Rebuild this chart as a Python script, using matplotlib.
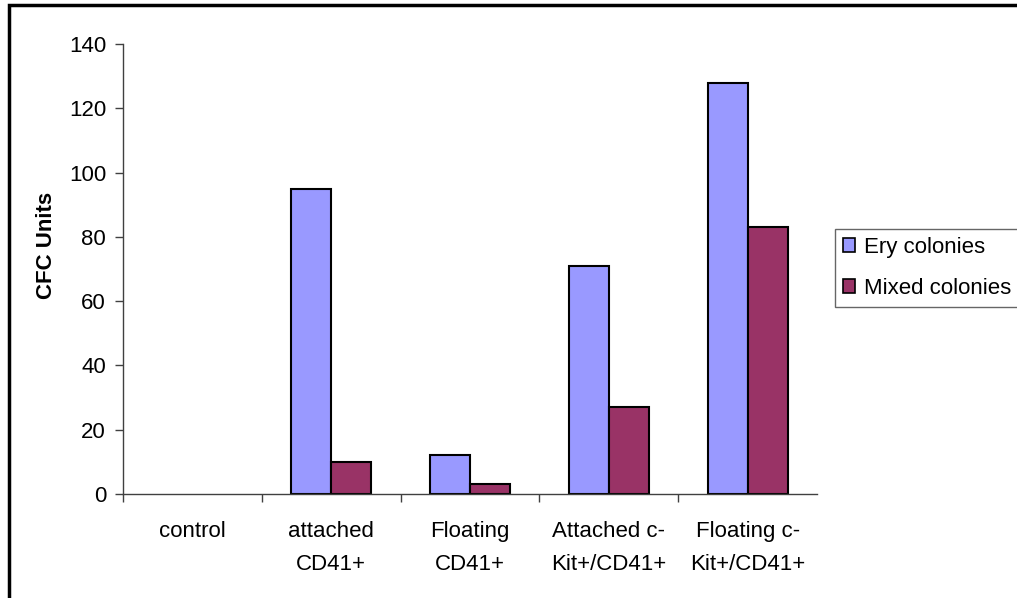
import numpy as np
import matplotlib.pyplot as plt
from matplotlib.patches import Rectangle, Patch

categories = ['control', 'attached\nCD41+', 'Floating\nCD41+',
              'Attached c-\nKit+/CD41+', 'Floating c-\nKit+/CD41+']
ery = [0, 95, 12, 71, 128]
mixed = [0, 10, 3, 27, 83]
yticks = [0, 20, 40, 60, 80, 100, 120, 140]

plt.rcParams['font.family'] = ['Liberation Sans', 'DejaVu Sans']

W, H = 1017, 598
fig = plt.figure(figsize=(W / 100, H / 100), dpi=100)
ax = fig.add_axes([122.7 / W, 1 - 494 / H, (817.3 - 122.7) / W, (494 - 44) / H])

x = np.arange(len(categories))
bw = 1 / 3.5
# empty bars get no outline
ax.bar(x, ery, width=bw, align='edge', color='#9999FF', edgecolor='black',
       linewidth=[1.5 if v else 0 for v in ery])
ax.bar(x + bw, mixed, width=bw, align='edge', color='#993366', edgecolor='black',
       linewidth=[1.5 if v else 0 for v in mixed])

ax.set_xlim(-0.5 + bw, len(categories) - 0.5 + bw)
ax.set_ylim(0, 140)
ax.set_yticks(yticks)
ax.tick_params(axis='y', labelsize=16, length=6, width=1, color='#404040', pad=6)

# category boundaries get the ticks, labels sit centred between them
ax.set_xticks(x - 0.5 + bw)
ax.set_xticklabels([])
ax.tick_params(axis='x', length=6, width=1, color='#404040')
for i, lab in enumerate(categories):
    ax.text(i + bw, -8.4, lab, ha='center', va='top', fontsize=16,
            linespacing=1.77)

for s in ['top', 'right']:
    ax.spines[s].set_visible(False)
for s in ['left', 'bottom']:
    ax.spines[s].set_color('#404040')
    ax.spines[s].set_linewidth(1)

fig.text(47 / W, 1 - 245 / H, 'CFC Units', rotation=90, ha='center', va='center',
         fontsize=16, fontweight='bold')

handles = [Patch(facecolor='#9999FF', edgecolor='black', linewidth=1.2, label='Ery colonies'),
           Patch(facecolor='#993366', edgecolor='black', linewidth=1.2, label='Mixed colonies')]
leg = fig.legend(handles=handles, loc='upper left',
                 bbox_to_anchor=(835 / W, 1 - 229 / H),
                 fontsize=16, frameon=True, fancybox=False, handlelength=0.55,
                 handleheight=0.55, handletextpad=0.4, borderpad=0.35,
                 labelspacing=0.9, borderaxespad=0)
leg.get_frame().set_edgecolor('#404040')
leg.get_frame().set_linewidth(1)

# outer chart border
fig.patches.append(Rectangle((8.5 / W, -0.01), 1.1, 1 - 4.5 / H + 0.01,
                             transform=fig.transFigure, fill=False,
                             edgecolor='black', linewidth=2.5))

fig.savefig('out.png', dpi=100)
